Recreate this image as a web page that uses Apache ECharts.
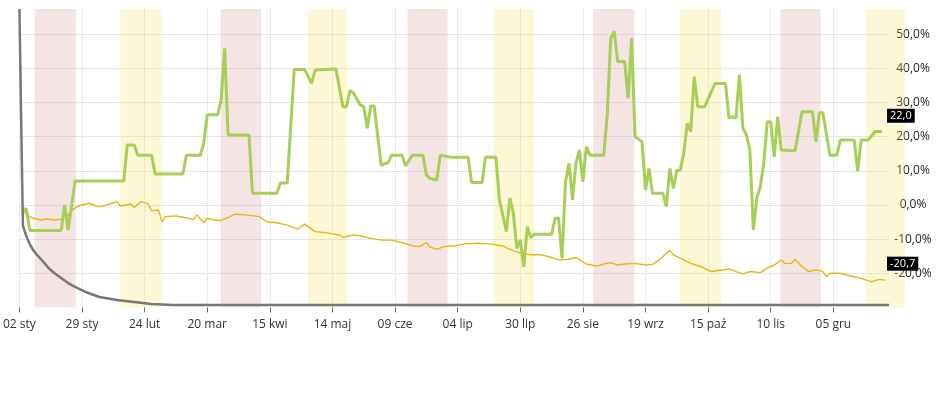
<!DOCTYPE html>
<html><head><meta charset="utf-8">
<script src="https://cdn.jsdelivr.net/npm/echarts@6/dist/echarts.min.js"></script>
<style>html,body{margin:0;padding:0;background:#fff}#c{width:940px;height:400px}</style>
</head><body><div id="c"></div>
<script>
const tickLabels = ['02 sty','29 sty','24 lut','20 mar','15 kwi','14 maj','09 cze','04 lip','30 lip','26 sie','19 wrz','15 paź','10 lis','05 gru'];
const dayCount = 251;
const labelStep = 18;
const endLabels = ['22,0', '-20,7'];

const greenSeries = [[1,-1.2],[2,-1.2],[3,-7.5],[12,-7.5],[13,0],[14,-7.4],[16,7.0],[30,7.0],[31,17.6],[33,17.6],[34,14.6],[38,14.6],[39,9.1],[47,9.1],[48,14.6],[52,14.6],[53,18],[54,26.4],[57,26.4],[58,30.8],[59,45.9],[60,20.5],[66,20.5],[67,3.4],[74,3.4],[75,6.4],[77,6.4],[79,39.7],[82,39.7],[84,35.6],[85,39.5],[91,39.8],[93,28.8],[94,28.8],[95,33.5],[96,32.9],[98,29.3],[99,28.8],[100,22.5],[101,29],[102,29],[104,11.7],[106,12.4],[107,14.6],[110,14.6],[111,11.5],[113,14.6],[116,14.6],[117,8.8],[118,7.8],[120,7.3],[121,14.6],[124,14],[129,14],[130,6.6],[133,6.6],[134,14],[137,14],[138,1.5],[140,-7.8],[141,2],[142,-2.4],[143,-12.7],[144,-10.3],[145,-18.1],[146,-6.4],[147,-9.5],[148,-8.6],[153,-8.6],[154,-3.9],[155,-3.9],[156,-15.6],[157,6.8],[158,12.2],[159,1.5],[160,12.2],[161,16.1],[162,6.8],[163,17.1],[164,14.6],[168,14.6],[169,26.4],[170,48.8],[171,50.8],[172,42],[174,42],[175,31.2],[176,48.8],[177,20],[179,18.5],[180,4.4],[181,10.7],[182,3.4],[185,3.4],[186,-0.5],[187,10.7],[188,4.9],[189,10.2],[190,10.2],[191,15.1],[192,23.9],[193,21.5],[194,37.6],[195,28.8],[197,28.8],[200,35.6],[203,35.6],[204,25.4],[205,25.9],[206,25.4],[207,38.1],[208,22.5],[209,20.5],[210,16.1],[211,-7.3],[212,2.0],[213,5.4],[214,12.2],[215,24.4],[216,24.4],[217,14.1],[218,25.9],[219,16.1],[223,15.9],[225,27.3],[228,27.3],[229,18.5],[230,27],[231,27],[233,14.6],[235,14.6],[236,19],[240,19],[241,9.8],[242,19],[244,19],[246,21.5],[248,21.5]];

const yellowSeries = [[1,-1.0],[2,-2.9],[4,-3.9],[6,-4.4],[8,-4.1],[10,-4.4],[12,-4.2],[13,-2.4],[14,-3.2],[15,-1.5],[17,-0.3],[20,0.5],[22,-0.3],[23,-0.5],[25,0],[28,1.0],[29,-0.3],[32,0.3],[33,-0.7],[35,1.0],[37,0.3],[38,-1.7],[40,-1.5],[41,-4.9],[42,-3.4],[45,-3.2],[47,-3.6],[50,-4.2],[51,-2.9],[53,-5.2],[54,-3.9],[56,-4.4],[58,-4.6],[62,-2.7],[65,-2.9],[69,-3.4],[71,-4.9],[74,-5.2],[77,-5.9],[80,-7.1],[82,-5.6],[85,-7.8],[88,-8.1],[92,-8.8],[93,-9.5],[96,-8.8],[98,-9.0],[101,-9.8],[104,-10.3],[107,-10.3],[110,-11.0],[113,-12.0],[115,-12.2],[117,-11.0],[118,-12.3],[120,-13.0],[122,-12.2],[125,-12.0],[128,-11.4],[132,-11.2],[135,-11.4],[139,-12.0],[141,-13.0],[144,-14.1],[147,-14.6],[150,-14.6],[152,-15.1],[155,-16.1],[158,-15.9],[160,-15.4],[162,-16.6],[163,-17.3],[166,-17.9],[168,-17.3],[170,-16.9],[172,-17.6],[174,-17.3],[177,-17.1],[180,-17.6],[182,-17.4],[184,-16.1],[186,-14.1],[187,-13.3],[188,-14.6],[190,-15.6],[193,-17.1],[196,-18.1],[199,-19.5],[201,-19.2],[204,-18.8],[206,-19.5],[208,-20.2],[210,-19.5],[213,-19.8],[215,-18.5],[217,-17.6],[219,-16.1],[220,-17.1],[222,-17.1],[223,-15.9],[225,-18.1],[227,-19.5],[229,-19.0],[231,-19.5],[232,-21.0],[233,-20.0],[236,-20.0],[239,-20.8],[242,-21.5],[245,-22.5],[247,-21.8],[249,-22.0]];

const graySeries = [[0,1.0],[1,0.268],[2,0.232],[3,0.205],[4,0.185],[5,0.170],[6,0.157],[7,0.144],[8,0.130],[9,0.118],[10,0.108],[12,0.091],[14,0.074],[16,0.061],[19,0.044],[23,0.027],[28,0.017],[33,0.010],[38,0.003],[44,0],[250,0]];

const pinkBands = [[4.8,16.6],[58.2,69.8],[111.8,123.3],[165.1,176.9],[218.8,230.4]];
const yellowBands = [[29.4,41.2],[83.2,94.5],[136.6,148.1],[190,201.8],[243.4,255.2]];

const categories = [];
for (let i = 0; i < dayCount; i++) categories.push(String(i));

const FONT = 'Open Sans';
const pinkColor = 'rgba(200,120,120,0.2)';
const yellowColor = 'rgba(240,222,70,0.22)';

function bandData(list, color) {
  return list.map(b => [{xAxis: b[0], itemStyle: {color: color}}, {xAxis: b[1]}]);
}
function fmtPct(v) {
  if (Math.abs(v - Math.round(v / 10) * 10) > 0.01) return '';
  return v.toFixed(1).replace('.', ',') + '%';
}
function endMark(series, text, dist, offY) {
  const last = series[series.length - 1];
  return {
    symbol: 'circle', symbolSize: 0, silent: true, animation: false,
    data: [{coord: [last[0], last[1]]}],
    label: {
      show: true, position: 'right', distance: dist, offset: [0, offY],
      formatter: () => text,
      color: '#fff', backgroundColor: '#000', padding: [2, 3, 1, 3],
      fontSize: 11, fontFamily: FONT
    }
  };
}

const chart = echarts.init(document.getElementById('c'), null, {renderer: 'canvas'});
chart.setOption({
  animation: false,
  grid: [
    {left: 18, right: 51, top: 9, bottom: 92.6},
    {left: 18, right: 35, top: 9, bottom: 92.6}
  ],
  xAxis: [
    {
      type: 'category', gridIndex: 0, data: categories, boundaryGap: false,
      axisLine: {show: false, onZero: false},
      axisTick: {show: true, interval: labelStep - 1, length: 5, lineStyle: {color: '#666'}},
      axisLabel: {
        interval: labelStep - 1, margin: 11, color: '#333', fontSize: 12, fontFamily: FONT,
        formatter: (v, idx) => tickLabels[Math.round(idx / labelStep)] || ''
      },
      splitLine: {show: true, interval: labelStep - 1, lineStyle: {color: '#d6d6d6', type: 'dotted'}}
    },
    {
      type: 'value', gridIndex: 1, min: 0, max: (905 - 18) / (871 / 250), show: false
    }
  ],
  yAxis: [
    {
      type: 'value', gridIndex: 0, position: 'right', min: -30, max: 57.4, interval: 10,
      axisLine: {show: false}, axisTick: {show: false},
      axisLabel: {
        showMinLabel: false, showMaxLabel: false, margin: 24, align: 'center',
        color: '#222', fontSize: 12, fontFamily: FONT, formatter: fmtPct
      },
      splitLine: {show: true, showMinLine: false, showMaxLine: false, lineStyle: {color: '#cfcfcf', type: 'dotted'}}
    },
    {type: 'value', gridIndex: 0, min: -0.0081, max: 1, show: false},
    {type: 'value', gridIndex: 1, min: 0, max: 1, show: false}
  ],
  series: [
    {
      type: 'line', xAxisIndex: 1, yAxisIndex: 2, data: [], silent: true, z: 1,
      markArea: {silent: true, data: bandData(pinkBands, pinkColor).concat(bandData(yellowBands, yellowColor))}
    },
    {
      type: 'line', xAxisIndex: 0, yAxisIndex: 0, data: yellowSeries, showSymbol: false, symbol: 'none',
      lineStyle: {color: '#e8b614', width: 1.4}, z: 3,
      markPoint: endMark(yellowSeries, endLabels[1], 1.5, -16.4)
    },
    {
      type: 'line', xAxisIndex: 0, yAxisIndex: 0, data: greenSeries, showSymbol: false, symbol: 'none',
      lineStyle: {color: '#a7cf58', width: 3}, z: 4,
      markPoint: endMark(greenSeries, endLabels[0], 5, -15.8)
    },
    {
      type: 'line', xAxisIndex: 0, yAxisIndex: 1, data: graySeries, showSymbol: false, symbol: 'none',
      lineStyle: {color: '#777777', width: 2.5}, z: 5
    }
  ]
});
</script></body></html>
